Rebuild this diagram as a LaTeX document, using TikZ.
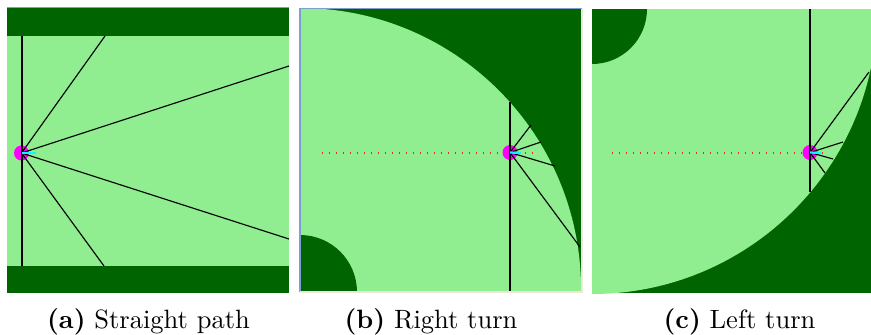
\documentclass[tikz,border=0pt]{standalone}
\usepackage{tikz}
\usetikzlibrary{calc}
\definecolor{grass}{HTML}{90EE90}
\definecolor{wall}{HTML}{006400}
\definecolor{frameblue}{HTML}{7F9DD0}
\definecolor{framegray}{HTML}{ECE9D8}
\definecolor{bot}{HTML}{FF00FF}
\definecolor{aim}{HTML}{00FFFF}
\definecolor{trail}{HTML}{FF2020}

\begin{document}
\begin{tikzpicture}[x=0.4pt,y=-0.4pt,
  ray/.style={black,line width=0.45pt},
  sweep/.style={black,line width=0.7pt},
  robot/.style={circle,fill=bot,inner sep=0pt,minimum size=6pt},
  heading/.style={aim,line width=0.9pt},
  track/.style={trail,line width=0.55pt,dash pattern=on 0.55pt off 2.25pt},
  caption/.style={anchor=base,font=\fontsize{10.6}{12.5}\selectfont}]
\useasboundingbox (0,0) rectangle (871,334);
% (a) straight path
\fill[grass] (7,8) rectangle (289,293);
\fill[wall] (7,8) rectangle (289,36);
\fill[wall] (7,266) rectangle (289,293);
\draw[frameblue,line width=0.5pt] (7,7.6)--(289,7.6);
\node[robot] (ra) at (21.5,153) {};
\coordinate (atop) at (22,36);
\coordinate (abot) at (22,266);
\draw[sweep] (atop) -- (abot);
\foreach \n/\p in {a1/{105,36},a2/{289,66},a3/{289,239},a4/{104,266}}{
  \coordinate (\n) at (\p);
  \draw[ray] (ra.center) -- (\n);
}
\coordinate (ah) at (36,153);
\draw[heading] (ra.center) -- (ah);
\node[caption] (capa) at (148.5,328) {\textbf{(a)} Straight path};
% (b) right turn
\begin{scope}
\clip (300,9) rectangle (582,292);
\fill[wall] (300,9) rectangle (582,292);
\fill[grass] (300,289) circle[radius=281];
\fill[wall] (300,292) circle[radius=57];
\end{scope}
\draw[frameblue,line width=0.5pt] (300,292)--(300,8.6)--(582,8.6);
\draw[framegray,line width=0.8pt] (300,291.6)--(582,291.6)--(582,9);
\coordinate (bs) at (322,153);
\coordinate (be) at (533,153);
\draw[track] (bs) -- (be);
\node[robot] (rb) at (510,152.5) {};
\coordinate (btop) at (510,102);
\coordinate (bbot) at (510,291);
\draw[sweep] (btop) -- (bbot);
\foreach \n/\p in {b1/{531,125},b2/{541,142},b3/{555,166},b4/{580,247}}{
  \coordinate (\n) at (\p);
  \draw[ray] (rb.center) -- (\n);
}
\coordinate (bh) at (521,153);
\draw[heading] (rb.center) -- (bh);
\node[caption] (capb) at (431,328) {\textbf{(b)} Right turn};
% (c) left turn
\begin{scope}
\clip (592,9) rectangle (871,293);
\fill[wall] (592,9) rectangle (871,293);
\fill[grass] (592,9) circle[radius=285];
\fill[wall] (592,9) circle[radius=55];
\end{scope}
\coordinate (cs) at (612,153);
\coordinate (ce) at (825,153);
\draw[track] (cs) -- (ce);
\node[robot] (rc) at (810,152.5) {};
\coordinate (ctop) at (810,9);
\coordinate (cbot) at (810,192);
\draw[sweep] (ctop) -- (cbot);
\foreach \n/\p in {c1/{869,72},c2/{843,142},c3/{833,159},c4/{825,173}}{
  \coordinate (\n) at (\p);
  \draw[ray] (rc.center) -- (\n);
}
\coordinate (ch) at (821,153);
\draw[heading] (rc.center) -- (ch);
\node[caption] (capc) at (739.5,328) {\textbf{(c)} Left turn};
\end{tikzpicture}
\end{document}
